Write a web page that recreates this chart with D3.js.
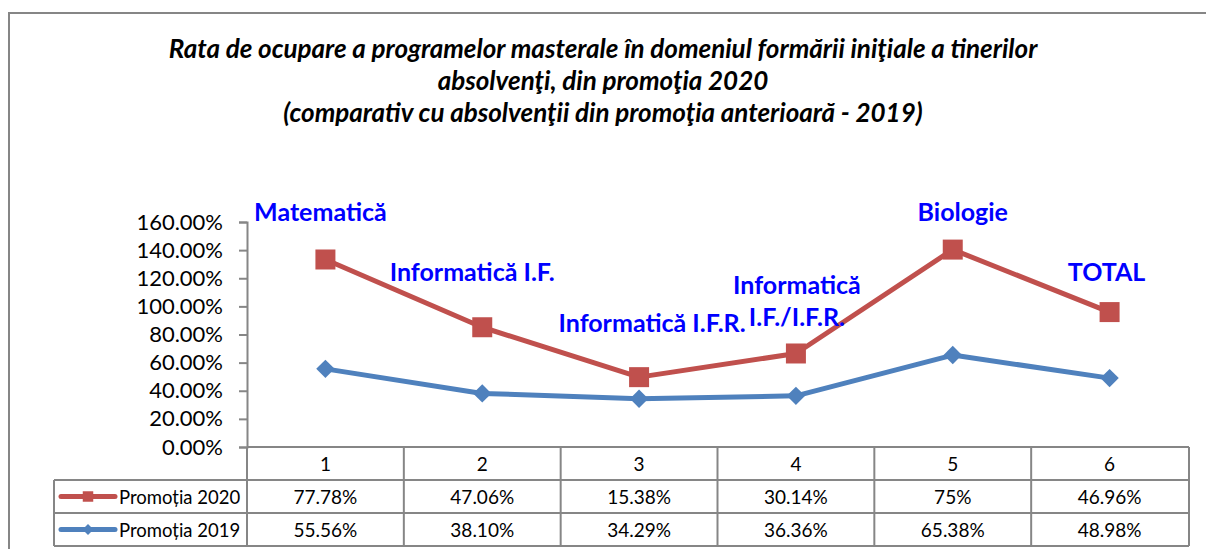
<!DOCTYPE html>
<html>
<head>
<meta charset="utf-8">
<script src="https://cdn.jsdelivr.net/npm/d3@7"></script>
<style>
  html, body { margin: 0; padding: 0; background: #fff; }
  svg { display: block; font-family: Lato, Carlito, Calibri, sans-serif; }
</style>
</head>
<body>
<svg id="chart" width="1206" height="549"></svg>
<script>
// === Data ===
const categories = ['1', '2', '3', '4', '5', '6'];
const programNames = [['Matematică'], ['Informatică I.F.'], ['Informatică I.F.R.'],
    ['Informatică', 'I.F./I.F.R.'], ['Biologie'], ['TOTAL']];
const promo2019 = [55.56, 38.10, 34.29, 36.36, 65.38, 48.98];
const promo2020 = [77.78, 47.06, 15.38, 30.14, 75, 46.96];
const seriesNames = ['Promoția 2020', 'Promoția 2019'];
const yTicks = [0, 20, 40, 60, 80, 100, 120, 140, 160];

// label offsets from the red point (layout only)
const labelOffset = [[-5, -46], [-10, -54], [13, -53], [1, -67], [10, -37], [-3, -39]];

const red = '#C0504D';
const blue = '#4F81BD';
const grid = '#868686';

const svg = d3.select('#chart');

// outer frame
svg.append('path')
    .attr('d', 'M9,560 V13 H1220')
    .attr('fill', 'none')
    .attr('stroke', grid)
    .attr('stroke-width', 2);

// title
const titleLines = [
    'Rata de ocupare a programelor masterale în domeniul formării iniţiale a tinerilor',
    'absolvenţi, din promoţia 2020',
    '(comparativ cu absolvenţii din promoţia anterioară - 2019)'
];
svg.append('g').selectAll('text')
    .data(titleLines)
    .enter().append('text')
    .attr('x', 603)
    .attr('y', (d, i) => 58 + i * 32)
    .attr('text-anchor', 'middle')
    .attr('font-size', 26)
    .attr('font-weight', 700)
    .attr('font-style', 'italic')
    .text(d => d);

// === Scales ===
const x = d3.scaleBand().domain(categories).range([247, 1188]);
const y = d3.scaleLinear().domain([0, 160]).range([447, 222]);

// stacked values (the chart is a stacked line chart)
const rows = categories.map((c, i) => ({ cat: c, p2019: promo2019[i], p2020: promo2020[i] }));
const stacked = d3.stack().keys(['p2019', 'p2020'])(rows);

// y axis
const yAxis = svg.append('g')
    .attr('transform', 'translate(247,0)')
    .call(d3.axisLeft(y).tickValues(yTicks).tickSize(8).tickPadding(16)
        .tickFormat(d => d3.format('.2f')(d) + '%'));
yAxis.select('.domain').attr('stroke', grid).attr('stroke-width', 2);
yAxis.selectAll('.tick line').attr('stroke', grid).attr('stroke-width', 2);
yAxis.selectAll('.tick text')
    .attr('font-size', 22)
    .attr('font-family', 'Lato, sans-serif')
    .attr('fill', '#000');

// === Data table ===
const rowH = 33;
const tTop = 447;
const legendLeft = 54;
const table = svg.append('g');

// horizontal lines
[tTop, tTop + rowH, tTop + 2 * rowH, tTop + 3 * rowH].forEach((yy, i) => {
    table.append('line')
        .attr('x1', i === 0 ? 247 : legendLeft).attr('x2', 1189)
        .attr('y1', yy).attr('y2', yy)
        .attr('stroke', grid).attr('stroke-width', 2);
});
// vertical lines
const vx = categories.map(c => x(c)).concat([x.range()[1] + 1]);
vx.forEach(xx => {
    table.append('line')
        .attr('x1', xx).attr('x2', xx)
        .attr('y1', tTop).attr('y2', tTop + 3 * rowH)
        .attr('stroke', grid).attr('stroke-width', 2);
});
table.append('line')
    .attr('x1', legendLeft).attr('x2', legendLeft)
    .attr('y1', tTop + rowH).attr('y2', tTop + 3 * rowH)
    .attr('stroke', grid).attr('stroke-width', 2);

// category numbers
table.selectAll('.cat')
    .data(categories)
    .enter().append('text')
    .attr('x', d => x(d) + x.bandwidth() / 2)
    .attr('y', tTop + rowH / 2 + 7)
    .attr('text-anchor', 'middle')
    .attr('font-size', 19)
    .text(d => d);

const fmtPct = v => (v % 1 === 0 ? v : v.toFixed(2)) + '%';
[promo2020, promo2019].forEach((vals, r) => {
    table.selectAll('.v' + r)
        .data(vals)
        .enter().append('text')
        .attr('x', (d, i) => x(categories[i]) + x.bandwidth() / 2)
        .attr('y', tTop + rowH * (r + 1) + rowH / 2 + 7)
        .attr('text-anchor', 'middle')
        .attr('font-size', 19)
        .text(d => fmtPct(d));
});

// legend keys
const square = d3.symbol().type(d3.symbolSquare);
seriesNames.forEach((name, r) => {
    const cy = tTop + rowH * (r + 1) + rowH / 2;
    const col = r === 0 ? red : blue;
    table.append('line')
        .attr('x1', 61).attr('x2', 115)
        .attr('y1', cy).attr('y2', cy)
        .attr('stroke', col).attr('stroke-width', 5)
        .attr('stroke-linecap', 'round');
    table.append('path')
        .attr('d', (r === 0 ? square.size(110) : square.size(60))())
        .attr('transform', `translate(88,${cy}) rotate(${r === 0 ? 0 : 45})`)
        .attr('fill', col);
    table.append('text')
        .attr('x', 119)
        .attr('y', cy + 7)
        .attr('font-size', 18.5)
        .text(name);
});

// === Lines ===
const cx = d => x(d.data.cat) + x.bandwidth() / 2;
const line = d3.line().x(cx).y(d => y(d[1]));

const s2019 = stacked[0];
const s2020 = stacked[1];

svg.append('path')
    .datum(s2019)
    .attr('d', line)
    .attr('fill', 'none')
    .attr('stroke', blue)
    .attr('stroke-width', 5)
    .attr('stroke-linejoin', 'round');

svg.append('path')
    .datum(s2020)
    .attr('d', line)
    .attr('fill', 'none')
    .attr('stroke', red)
    .attr('stroke-width', 5)
    .attr('stroke-linejoin', 'round');

svg.selectAll('.m2019')
    .data(s2019)
    .enter().append('path')
    .attr('d', square.size(169)())
    .attr('transform', d => `translate(${cx(d)},${y(d[1])}) rotate(45)`)
    .attr('fill', blue);

svg.selectAll('.m2020')
    .data(s2020)
    .enter().append('path')
    .attr('d', square.size(400)())
    .attr('transform', d => `translate(${cx(d)},${y(d[1])})`)
    .attr('fill', red);

// === Program name labels ===
const labels = svg.append('g');
s2020.forEach((d, i) => {
    const lines = programNames[i];
    const [dx, dy] = labelOffset[i];
    lines.forEach((txt, k) => {
        labels.append('text')
            .attr('x', cx(d) + dx)
            .attr('y', y(d[1]) + dy + k * 32 + 8)
            .attr('text-anchor', 'middle')
            .attr('font-size', 25)
            .attr('font-weight', 700)
            .attr('fill', '#0000FF')
            .text(txt);
    });
});
</script>
</body>
</html>
